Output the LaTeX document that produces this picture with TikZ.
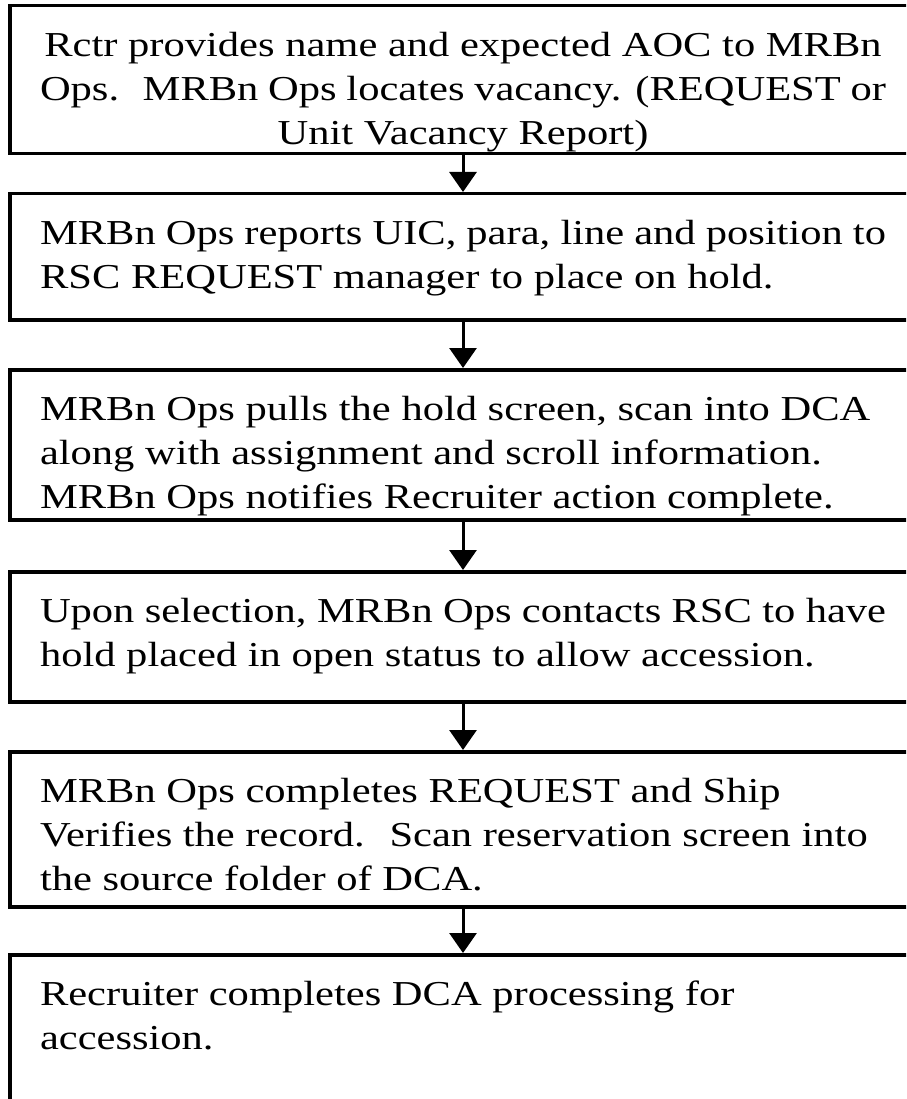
\documentclass[tikz,border=0pt]{standalone}
\usepackage{fontspec}
\setmainfont{Liberation Serif}[FakeStretch=1.215]
\usetikzlibrary{arrows.meta}

\begin{document}
\begin{tikzpicture}[x=1pt, y=1pt,
        stepbox/.style={draw, line width=3.5pt, anchor=north, inner xsep=30pt, inner ysep=20pt,
            font=\fontsize{35}{44}\selectfont},
        flow/.style={line width=3pt, -{Triangle[width=27pt, length=20pt]}}]
        \useasboundingbox (0,0) rectangle (906,-1099);
        \clip (0,0) rectangle (906,-1099);

        % Recruiter request at the top, text centred
        \node[stepbox] (request) at (463,-4) {\parbox[t][108pt][t]{846pt}{\centering\strut
            Rctr provides name and expected AOC to MRBn\\
            Ops.~ MRBn Ops locates vacancy. (REQUEST or\\
            Unit Vacancy Report)}};

        % Steps handled by MRBn Ops, placed one below the other
        \node[stepbox] (hold) at (463,-192) {\parbox[t][86pt][t]{846pt}{\raggedright\strut
            MRBn Ops reports UIC, para, line and position to\\
            RSC REQUEST manager to place on hold.}};
        \node[stepbox] (scan) at (463,-368) {\parbox[t][110pt][t]{846pt}{\raggedright\strut
            MRBn Ops pulls the hold screen, scan into DCA\\
            along with assignment and scroll information.\\
            MRBn Ops notifies Recruiter action complete.}};
        \node[stepbox] (open) at (463,-570) {\parbox[t][90pt][t]{846pt}{\raggedright\strut
            Upon selection, MRBn Ops contacts RSC to have\\
            hold placed in open status to allow accession.}};
        \node[stepbox] (verify) at (463,-750) {\parbox[t][115pt][t]{846pt}{\raggedright\strut
            MRBn Ops completes REQUEST and Ship\\
            Verifies the record.~ Scan reservation screen into\\
            the source folder of DCA.}};

        % Last step, runs off the bottom of the page
        \node[stepbox] (accession) at (463,-953) {\parbox[t][144pt][t]{846pt}{\raggedright\strut
            Recruiter completes DCA processing for\\
            accession.}};

        % Arrows from each step down to the next
        \draw[flow] (request) -- (hold);
        \draw[flow] (hold) -- (scan);
        \draw[flow] (scan) -- (open);
        \draw[flow] (open) -- (verify);
        \draw[flow] (verify) -- (accession);
    \end{tikzpicture}
\end{document}
